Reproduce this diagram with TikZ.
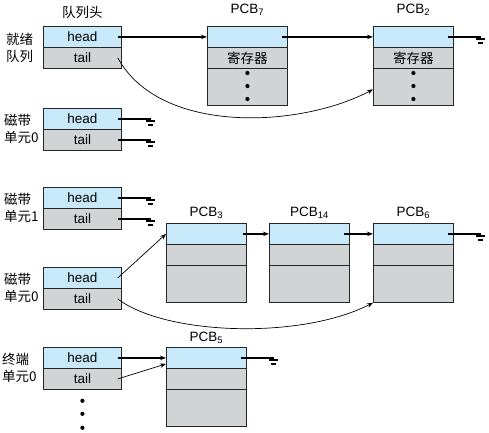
\documentclass[tikz,border=0pt]{standalone}
\usepackage{fontspec}
\setmainfont{Liberation Sans}
\newfontfamily\cjk{Noto Sans CJK SC}
\usetikzlibrary{arrows.meta}
\definecolor{hdblue}{RGB}{200,233,249}
\definecolor{bdgray}{RGB}{208,212,213}
\tikzset{ground/.pic={\draw[line width=1.2pt] (0,0)--(0,2) (-4.5,2)--(4.5,2) (-2.5,6)--(2.5,6);}}

\begin{document}
\begin{tikzpicture}[x=1pt,y=-1pt,font=\fontsize{13.5}{16}\selectfont]
\tikzstyle{fld}=[draw=black!85,line width=0.8pt,fill=bdgray,minimum width=78pt,minimum height=21pt,inner sep=0pt,anchor=north west];
\tikzstyle{hd}=[fld,fill=hdblue];
\tikzstyle{pcb}=[fld,minimum width=80pt];
\tikzstyle{qlabel}=[align=left,anchor=west,inner sep=0pt,font=\cjk\fontsize{13.5}{17}\selectfont];
\tikzstyle{ptr}=[-{Stealth[length=6pt,width=4.5pt]},line width=1.2pt];
\tikzstyle{lnk}=[-{Stealth[length=6pt,width=4.5pt]},line width=0.7pt];
\tikzstyle{nil}=[line width=1.3pt];
\useasboundingbox (0,0) rectangle (489,432);

% queue headers
\foreach \n/\y in {rq/26,t0/108,t1/187,d0/267,k0/347} {
  \node [hd] (\n-h) at (43,\y) {head};
  \node [fld] (\n-t) at (43,\y+21) {tail};
}
\node [anchor=base,font=\cjk\fontsize{13.5}{16}\selectfont] at ([yshift=9pt]rq-h.north) {队列头};
\node [qlabel] (lrq) at (6,48) {就绪\\队列};
\node [qlabel] (lt0) at (4,129) {磁带\\单元0};
\node [qlabel] (lt1) at (4,208) {磁带\\单元1};
\node [qlabel] (ld0) at (4,288) {磁带\\单元0};
\node [qlabel] (lk0) at (2,368) {终端\\单元0};

% ready queue PCBs
\foreach \n/\x in {p7/207,p2/373} {
  \node [pcb,fill=hdblue] (\n h) at (\x,26) {};
  \node [pcb,font=\cjk\fontsize{13.5}{16}\selectfont] (\n r) at (\x,47) {寄存器};
  \node [pcb,minimum height=37pt] (\n b) at (\x,68) {};
  \foreach \d in {5,18,31}
    \fill ([yshift=-\d pt]\n b.north) circle (2.1pt);
}
\node [anchor=base] at ([yshift=13pt]p7h.north) {PCB\textsubscript{7}};
\node [anchor=base] at ([yshift=13pt]p2h.north) {PCB\textsubscript{2}};

% device queue PCBs
\foreach \n/\x/\y in {p3/166/223,p14/269/223,p6/373/223,p5/166/347} {
  \node [pcb,fill=hdblue] (\n h) at (\x,\y) {};
  \node [pcb] (\n m) at (\x,\y+21) {};
  \node [pcb,minimum height=37pt] (\n b) at (\x,\y+42) {};
}
\node [anchor=base] at ([yshift=7pt]p3h.north) {PCB\textsubscript{3}};
\node [anchor=base] at ([yshift=7pt]p14h.north) {PCB\textsubscript{14}};
\node [anchor=base] at ([yshift=7pt]p6h.north) {PCB\textsubscript{6}};
\node [anchor=base] at ([yshift=6pt]p5h.north) {PCB\textsubscript{5}};

% pointers
\draw [ptr] ([xshift=-4pt]rq-h.east) -- (p7h.west);
\draw [ptr] ([xshift=-6pt]p7h.east) -- (p2h.west);
\draw [nil] ([xshift=-6pt]p2h.east) -- ++(33,0) pic {ground};
\draw [lnk] ([xshift=-4pt]rq-t.east) .. controls (160,135) and (300,128) .. ([yshift=-2.5pt]p2b.west);
\foreach \n in {t0-h,t0-t,t1-h,t1-t}
  \draw [nil] ([xshift=-4pt]\n.east) -- ++(33,0) pic {ground};
\draw [lnk] ([xshift=-4pt]d0-h.east) -- (p3h.west);
\draw [ptr] ([xshift=-4pt]p3h.east) -- (p14h.west);
\draw [ptr] ([xshift=-6pt]p14h.east) -- (p6h.west);
\draw [nil] ([xshift=-6pt]p6h.east) -- ++(33,0) pic {ground};
\draw [lnk] ([xshift=-4pt]d0-t.east) .. controls (165,335) and (300,340) .. (p6b.south west);
\draw [ptr] ([xshift=-4pt]k0-h.east) -- (p5h.west);
\draw [lnk] ([xshift=-4pt]k0-t.east) -- ([yshift=-6pt]p5h.west);
\draw [nil] ([xshift=-6pt]p5h.east) -- ++(33,0) pic {ground};
\foreach \d in {11,24,38}
  \fill ([yshift=-\d pt]k0-t.south) circle (2.1pt);
\end{tikzpicture}
\end{document}
